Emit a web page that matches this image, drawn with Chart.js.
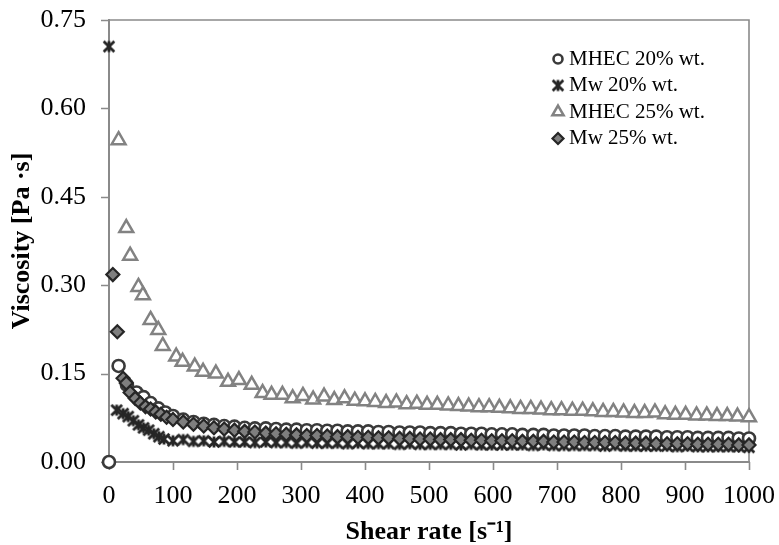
<!DOCTYPE html>
<html>
<head>
<meta charset="utf-8">
<script src="https://cdn.jsdelivr.net/npm/chart.js@4.4.1/dist/chart.umd.min.js"></script>
<style>
  html, body { margin: 0; padding: 0; background: #ffffff; }
  canvas { display: block; }
</style>
</head>
<body>
<canvas id="chart" width="779" height="545"></canvas>
<script>
// Shear-rate grid shared by the three low-viscosity series above 100 1/s
const tailRate = [100,116,132,148,164,180,196,212,228,245,261,277,293,309,325,341,357,373,389,405,
  421,437,454,470,486,502,518,534,550,566,582,598,614,630,646,663,679,695,711,727,
  743,759,775,791,807,823,839,855,872,888,904,920,936,952,968,984,1000];

// MHEC 20% wt.
const mhec20Head = [0, 15, 28, 43, 54, 65, 77, 88];
const mhec20HeadVisc = [0.000, 0.163, 0.131, 0.118, 0.110, 0.100, 0.091, 0.084];
const mhec20TailVisc = [0.078,0.072,0.068,0.065,0.063,0.061,0.060,0.058,0.057,0.057,0.056,0.055,0.055,0.054,0.054,0.053,0.053,0.052,0.052,0.052,
  0.051,0.051,0.050,0.050,0.050,0.049,0.049,0.049,0.048,0.048,0.048,0.047,0.047,0.047,0.046,0.046,0.046,0.045,0.045,0.045,
  0.045,0.044,0.044,0.044,0.043,0.043,0.043,0.043,0.042,0.042,0.042,0.041,0.041,0.041,0.041,0.040,0.040];

// Mw 20% wt.
const mw20Head = [0, 12, 22, 30, 38, 46, 54, 62, 70, 78, 86];
const mw20HeadVisc = [0.705, 0.088, 0.082, 0.077, 0.070, 0.063, 0.058, 0.054, 0.048, 0.043, 0.039];
const mw20TailVisc = [0.036,0.038,0.035,0.036,0.034,0.035,0.034,0.034,0.033,0.034,0.033,0.033,0.032,0.033,0.032,0.032,0.032,0.031,0.032,0.031,
  0.031,0.031,0.030,0.031,0.030,0.030,0.030,0.030,0.029,0.030,0.029,0.029,0.029,0.029,0.029,0.028,0.029,0.028,0.028,0.028,
  0.028,0.028,0.027,0.028,0.027,0.027,0.027,0.027,0.027,0.026,0.027,0.026,0.026,0.026,0.026,0.026,0.025];

// MHEC 25% wt.
const mhec25Rate = [15,27,33,46,53,65,77,84,105,115,134,147,167,186,203,223,240,254,271,
  287,303,319,336,352,368,384,400,416,433,449,465,481,497,513,530,546,562,578,594,
  610,627,643,659,675,691,707,724,740,756,772,788,804,821,837,853,869,885,901,918,
  934,950,966,982,1000];
const mhec25Visc = [0.546,0.397,0.350,0.297,0.283,0.241,0.224,0.197,0.179,0.170,0.162,0.153,0.150,0.136,0.139,0.131,0.117,0.114,0.114,
  0.108,0.112,0.106,0.111,0.105,0.108,0.104,0.103,0.102,0.100,0.101,0.098,0.099,0.097,0.097,0.096,0.095,0.094,0.093,0.093,
  0.092,0.091,0.090,0.090,0.089,0.088,0.088,0.087,0.087,0.086,0.085,0.085,0.084,0.083,0.083,0.084,0.081,0.080,0.080,0.079,
  0.079,0.078,0.078,0.077,0.076];

// Mw 25% wt.
const mw25Head = [6, 13, 22, 27, 33, 41, 49, 57, 65, 73, 81, 90];
const mw25HeadVisc = [0.318, 0.221, 0.142, 0.134, 0.118, 0.108, 0.100, 0.094, 0.090, 0.085, 0.081, 0.076];
const mw25TailVisc = [0.072,0.068,0.064,0.061,0.058,0.056,0.054,0.052,0.051,0.049,0.048,0.047,0.046,0.045,0.045,0.044,0.043,0.043,0.042,0.042,
  0.041,0.041,0.040,0.040,0.039,0.039,0.038,0.038,0.038,0.037,0.037,0.036,0.036,0.036,0.035,0.035,0.035,0.034,0.034,0.034,
  0.033,0.033,0.033,0.033,0.032,0.032,0.032,0.031,0.031,0.031,0.031,0.030,0.030,0.030,0.030,0.029,0.029];

const seriesNames = ['MHEC 20% wt.', 'Mw 20% wt.', 'MHEC 25% wt.', 'Mw 25% wt.'];
const xTicks = [0, 100, 200, 300, 400, 500, 600, 700, 800, 900, 1000];
const yTicks = [0.00, 0.15, 0.30, 0.45, 0.60, 0.75];

function toPoints(xs, ys) {
  return xs.map((x, i) => ({ x: x, y: ys[i] }));
}

// Six-ray asterisk marker (an X crossed by a vertical stroke)
function asteriskMarker(size, color, lw) {
  const c = document.createElement('canvas');
  c.width = size; c.height = size;
  const g = c.getContext('2d');
  const m = size / 2, r = size / 2 - 1, d = r * 0.76;
  g.strokeStyle = color;
  g.lineWidth = lw;
  g.beginPath();
  g.moveTo(m - d, m - d); g.lineTo(m + d, m + d);
  g.moveTo(m + d, m - d); g.lineTo(m - d, m + d);
  g.moveTo(m, m - r * 0.8); g.lineTo(m, m + r * 0.8);
  g.stroke();
  return c;
}
const starImg = asteriskMarker(16, '#262626', 2.8);

const FONT = '"Liberation Serif", "Times New Roman", serif';
const AXIS_GREY = '#8a8a8a';
const TICK_MARK = 8;

const datasets = [
  {
    label: seriesNames[0],
    data: toPoints(mhec20Head.concat(tailRate), mhec20HeadVisc.concat(mhec20TailVisc)),
    pointStyle: 'circle', pointRadius: 6, borderWidth: 2.6,
    borderColor: '#3a3a3a', backgroundColor: '#ffffff', order: 4
  },
  {
    label: seriesNames[1],
    data: toPoints(mw20Head.concat(tailRate), mw20HeadVisc.concat(mw20TailVisc)),
    pointStyle: starImg, pointRadius: 8, borderWidth: 0,
    borderColor: '#262626', backgroundColor: '#262626', order: 3
  },
  {
    label: seriesNames[2],
    data: toPoints(mhec25Rate, mhec25Visc),
    pointStyle: 'triangle', pointRadius: 8, borderWidth: 2.5,
    borderColor: '#828282', backgroundColor: '#ffffff', order: 2
  },
  {
    label: seriesNames[3],
    data: toPoints(mw25Head.concat(tailRate), mw25HeadVisc.concat(mw25TailVisc)),
    pointStyle: 'rectRot', pointRadius: 6.5, borderWidth: 2.2,
    borderColor: '#262626', backgroundColor: '#7f7f7f', order: 1
  }
];
datasets.forEach(d => { d.showLine = false; d.clip = false; d.pointHoverRadius = d.pointRadius; });

// Frame on the top and right of the plot, plus short outward tick marks
const framePlugin = {
  id: 'frame',
  beforeDatasetsDraw(chart) {
    const { ctx, chartArea: a, scales } = chart;
    ctx.save();
    ctx.strokeStyle = AXIS_GREY;
    ctx.lineWidth = 1.6;
    ctx.beginPath();
    ctx.moveTo(a.left, a.top);
    ctx.lineTo(a.right, a.top);
    ctx.lineTo(a.right, a.bottom);
    ctx.stroke();
    ctx.beginPath();
    scales.y.ticks.forEach(t => {
      const py = Math.round(scales.y.getPixelForValue(t.value)) + 0.5;
      ctx.moveTo(a.left - TICK_MARK, py);
      ctx.lineTo(a.left, py);
    });
    scales.x.ticks.forEach(t => {
      const px = Math.round(scales.x.getPixelForValue(t.value)) + 0.5;
      ctx.moveTo(px, a.bottom);
      ctx.lineTo(px, a.bottom + TICK_MARK);
    });
    ctx.stroke();
    ctx.restore();
  }
};

// Legend box in the upper right of the plot
const legendPlugin = {
  id: 'insideLegend',
  afterDraw(chart) {
    const { ctx } = chart;
    const iconX = 558, textX = 569, top = 58, step = 26.5;
    ctx.save();
    ctx.font = '21px ' + FONT;
    ctx.textBaseline = 'middle';
    ctx.textAlign = 'left';
    chart.data.datasets.forEach((ds, i) => {
      const y = top + i * step;
      ctx.fillStyle = ds.backgroundColor;
      ctx.strokeStyle = ds.borderColor;
      ctx.lineWidth = ds.borderWidth;
      const r = ds.pointStyle === 'triangle' ? 6.5 : (ds.pointStyle === 'circle' ? 4.5 : 5.5);
      Chart.helpers.drawPoint(ctx, {
        pointStyle: ds.pointStyle, radius: r, rotation: 0, borderWidth: ds.borderWidth
      }, iconX, y + 1);
      ctx.fillStyle = '#000000';
      ctx.fillText(ds.label, textX, y + 1);
    });
    ctx.restore();
  }
};

new Chart(document.getElementById('chart'), {
  type: 'scatter',
  data: { datasets: datasets },
  options: {
    responsive: false,
    animation: false,
    devicePixelRatio: 1,
    layout: { padding: { top: 20, right: 30, left: 0, bottom: 0 } },
    plugins: {
      legend: { display: false },
      tooltip: { enabled: false }
    },
    scales: {
      x: {
        type: 'linear',
        min: 0, max: 1000,
        afterFit(scale) { scale.height = 83; },
        afterBuildTicks(scale) { scale.ticks = xTicks.map(v => ({ value: v })); },
        grid: {
          display: true, drawOnChartArea: false, drawTicks: true,
          tickLength: 16, tickColor: 'rgba(0,0,0,0)'
        },
        border: { display: true, color: AXIS_GREY, width: 2 },
        ticks: {
          color: '#000000', padding: 3,
          font: { family: FONT, size: 26 },
          callback: v => String(v)
        },
        title: {
          display: true,
          text: 'Shear rate [s\u207B\u00B9]',
          color: '#000000',
          font: { family: FONT, size: 26, weight: 'bold', lineHeight: 1 },
          padding: { top: 0, bottom: 0 }
        }
      },
      y: {
        type: 'linear',
        min: 0, max: 0.75,
        afterFit(scale) { scale.width = 109; },
        afterBuildTicks(scale) { scale.ticks = yTicks.map(v => ({ value: v })); },
        grid: {
          display: true, drawOnChartArea: false, drawTicks: true,
          tickLength: 19, tickColor: 'rgba(0,0,0,0)'
        },
        border: { display: true, color: AXIS_GREY, width: 2 },
        ticks: {
          color: '#000000', padding: 4,
          font: { family: FONT, size: 26 },
          callback: v => Number(v).toFixed(2)
        },
        title: {
          display: true,
          text: 'Viscosity [Pa \u00B7s]',
          color: '#000000',
          font: { family: FONT, size: 26, weight: 'bold' },
          padding: { top: 7, bottom: 0 }
        }
      }
    }
  },
  plugins: [framePlugin, legendPlugin]
});
</script>
</body>
</html>
